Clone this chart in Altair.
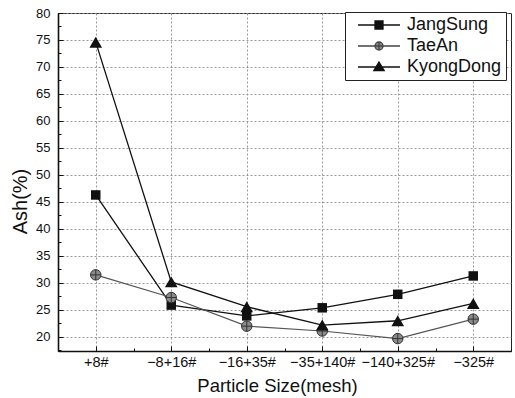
import json
import altair as alt
import pandas as pd

# Particle size fractions (mesh) and ash content per coal
sizes = ["+8#", "\u22128+16#", "\u221216+35#", "\u221235+140#", "\u2212140+325#", "\u2212325#"]
series = ["JangSung", "TaeAn", "KyongDong"]
jangsung = [46.3, 25.9, 23.9, 25.4, 27.9, 31.3]
taean = [31.5, 27.3, 22.0, 21.1, 19.7, 23.3]
kyongdong = [74.6, 30.2, 25.6, 22.2, 23.0, 26.2]
y_ticks = [20, 25, 30, 35, 40, 45, 50, 55, 60, 65, 70, 75, 80]
y_minor = [17.5 + 2.5 * i for i in range(26)]
x_ticks = [1, 2, 3, 4, 5, 6]
x_minor = [0.5 + 0.5 * i for i in range(13)]

rows = []
for name, vals in zip(series, [jangsung, taean, kyongdong]):
    for i, (s, v) in enumerate(zip(sizes, vals)):
        rows.append({"Idx": i + 1, "Size": s, "Series": name, "Ash": v})
df = pd.DataFrame(rows)

FONT = "Liberation Sans"
INK = "#111111"
GREY = "#8a8a8a"

# circle with a cross, used for TaeAn
circ_cross = "M-1,0A1,1,0,1,1,1,0A1,1,0,1,1,-1,0Z M-1,0H1 M0,-1V1"

# legend glyphs: a line segment with the marker in its middle
leg_square = "M0,0H10.5 M4.25,-1H6.25V1H4.25Z"
leg_circle = "M0,0H10.5 M4.25,0A1,1,0,1,1,6.25,0A1,1,0,1,1,4.25,0Z M5.25,-1V1"
leg_tri = "M0,0H10.5 M5.25,-1.25L6.55,0.9L3.95,0.9Z"

x_scale = alt.Scale(domain=[0.5, 6.5], nice=False, zero=False)
y_scale = alt.Scale(domain=[17.4, 80], nice=False, zero=False)
label_expr = json.dumps(sizes, ensure_ascii=False) + "[round(datum.value) - 1]"

# main axes: labels, titles, grid
x_main = alt.X(
    "Idx:Q", scale=x_scale,
    axis=alt.Axis(
        orient="bottom", values=x_ticks, labelExpr=label_expr, title="Particle Size(mesh)",
        ticks=False, tickSize=0, labelPadding=4, labelFontSize=14.5,
        titleFontSize=18.5, titleFontWeight="normal",
        titleX=219, titleY=34, titleBaseline="middle",
        grid=True,
    ),
)
y_main = alt.Y(
    "Ash:Q", scale=y_scale,
    axis=alt.Axis(
        orient="left", values=y_ticks, title="Ash(%)",
        ticks=False, tickSize=0, labelPadding=8, labelFontSize=13,
        titleFontSize=20, titleFontWeight="normal",
        titleX=-38, titleY=188, titleBaseline="middle",
        grid=True,
    ),
)


def tick_axis(orient, values, size):
    # inward ticks: the axis is pulled into the plot by its own tick length
    return alt.Axis(
        orient=orient, values=values, title=None, labels=False, domain=False,
        grid=False, ticks=True, tickSize=size, offset=-size, tickWidth=1,
    )


no_x = alt.X("Idx:Q", scale=x_scale, axis=None)
no_y = alt.Y("Ash:Q", scale=y_scale, axis=None)

dark_lines = alt.Chart(df).transform_filter(alt.datum.Series != "TaeAn").mark_line(
    strokeWidth=1.3, color=INK
).encode(x=x_main, y=y_main, detail="Series:N")

taean_line = alt.Chart(df).transform_filter(alt.datum.Series == "TaeAn").mark_line(
    strokeWidth=1.2, color="#555555"
).encode(x=no_x, y=no_y)

squares = alt.Chart(df).transform_filter(alt.datum.Series == "JangSung").mark_point(
    shape="square", filled=True, size=90, color=INK, opacity=1
).encode(
    x=alt.X("Idx:Q", scale=x_scale, axis=tick_axis("bottom", x_ticks, 5)),
    y=alt.Y("Ash:Q", scale=y_scale, axis=tick_axis("left", y_ticks, 5)),
)

circles = alt.Chart(df).transform_filter(alt.datum.Series == "TaeAn").mark_point(
    shape=circ_cross, filled=True, size=110, fill=GREY, stroke="#333333",
    strokeWidth=1, opacity=1
).encode(
    x=alt.X("Idx:Q", scale=x_scale, axis=tick_axis("bottom", x_minor, 3)),
    y=alt.Y("Ash:Q", scale=y_scale, axis=tick_axis("left", y_minor, 3)),
)

triangles = alt.Chart(df).transform_filter(alt.datum.Series == "KyongDong").mark_point(
    shape="triangle-up", filled=True, size=160, color=INK, opacity=1
).encode(x=no_x, y=no_y)

legend = alt.Legend(
    title=None,
    orient="none",
    legendX=287,
    legendY=-1,
    strokeColor="#222222",
    fillColor="white",
    padding=4,
    labelFont=FONT,
    labelFontSize=18,
    labelColor=INK,
    labelOffset=40,
    rowPadding=3,
    symbolSize=64,
    symbolStrokeWidth=1.3,
    symbolOpacity=1,
)

# legend carrier: draws nothing itself, its scales feed the legend
legend_layer = alt.Chart(df).transform_filter("false").mark_point(filled=True, strokeWidth=1.3).encode(
    x=no_x,
    y=no_y,
    shape=alt.Shape("Series:N", scale=alt.Scale(domain=series, range=[leg_square, leg_circle, leg_tri]), legend=legend),
    fill=alt.Fill("Series:N", scale=alt.Scale(domain=series, range=[INK, GREY, INK]), legend=legend),
    stroke=alt.Stroke("Series:N", scale=alt.Scale(domain=series, range=[INK, "#444444", INK]), legend=legend),
)

chart = (
    alt.layer(dark_lines, taean_line, squares, circles, triangles, legend_layer)
    .resolve_axis(x="independent", y="independent")
    .properties(
        width=453,
        height=338,
        autosize=alt.AutoSizeParams(type="none"),
        padding={"left": 58, "top": 13, "right": 4, "bottom": 47},
        background="white",
    )
    .configure_view(stroke="#222222", strokeWidth=1)
    .configure_axis(
        labelFont=FONT,
        titleFont=FONT,
        labelColor=INK,
        titleColor=INK,
        domainColor=INK,
        domainWidth=1.6,
        tickColor=INK,
        gridColor="#8c8c8c",
        gridDash=[2, 2],
        gridWidth=0.9,
    )
)

chart.save("out.html", embed_options={"renderer": "svg", "actions": False})
